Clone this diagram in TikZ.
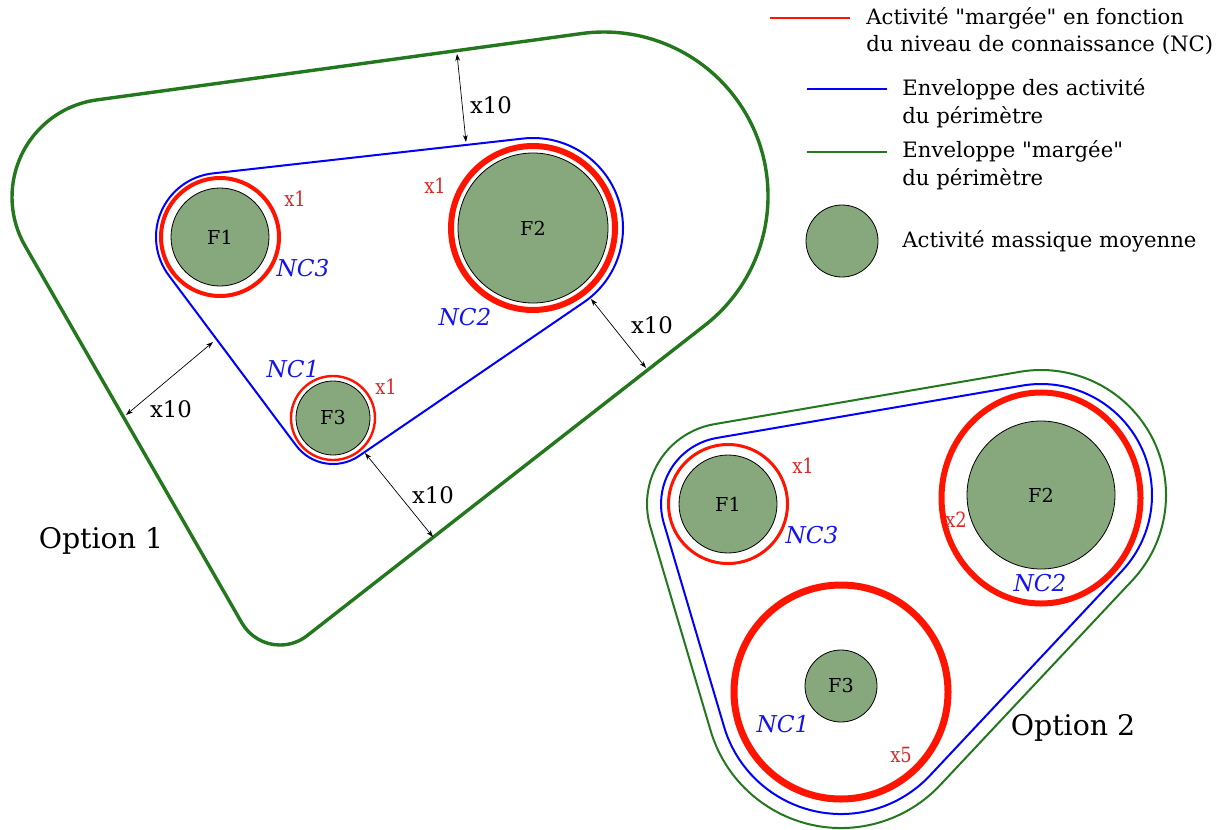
\documentclass[tikz,border=0pt]{standalone}
\usepackage{fontspec}
\setmainfont{DejaVu Serif}[Ligatures=TeXOff]
\newfontfamily\condfont[FakeStretch=0.85]{DejaVu Serif}
\usepackage{tikz}
\usetikzlibrary{arrows.meta}
\usetikzlibrary{positioning}
\usetikzlibrary{calc}
\definecolor{massgreen}{RGB}{135,168,125}
\definecolor{envgreen}{RGB}{35,120,30}
\definecolor{envblue}{RGB}{0,0,255}
\definecolor{ringred}{RGB}{255,20,0}
\definecolor{labred}{RGB}{220,40,40}
\definecolor{labblue}{RGB}{20,20,235}
\newcommand\massnode[4][]{%
  \node[massnode,#1,minimum size=#2pt] (#3) {#4};
}

\begin{document}
\begin{tikzpicture}[
x=0.5pt, y=0.5pt,
massnode/.style={
  circle,
  draw=black,
  line width=0.4pt,
  fill=massgreen,
  inner sep=0pt,
  font=\fontsize{9.6}{11}\selectfont},
ring/.style={draw=ringred},
benv/.style={draw=envblue, line width=1pt},
genv/.style={draw=envgreen},
nclab/.style={text=labblue, font=\fontsize{11.6}{13}\selectfont\itshape},
xlab/.style={text=labred, font=\condfont\fontsize{10.5}{12}\selectfont},
dimlab/.style={font=\fontsize{11.4}{13}\selectfont},
dimline/.style={{Stealth[length=3.5pt,width=2.4pt]}-{Stealth[length=3.5pt,width=2.4pt]}, line width=0.35pt},
legtext/.style={align=left, inner sep=0pt, font=\fontsize{10.6}{13.8}\selectfont},
optlab/.style={font=\fontsize{14.2}{16}\selectfont}
]
\useasboundingbox (0,0) rectangle (1224,-829);

% Option 1
\massnode[at={(220,-237)}]{49}{F1}{F1}
\massnode[at={(533,-228)}]{75}{F2}{F2}
\massnode[at={(333,-418)}]{37}{F3}{F3}
\draw[ring, line width=2pt] (F1) circle[radius=59];
\draw[ring, line width=3pt] (F2) circle[radius=82];
\draw[ring, line width=1.2pt] (F3) circle[radius=42];

\draw[benv] ($(F1)+(96.41:64)$) arc[start angle=96.41, end angle=216.8, radius=64]
  -- ($(F3)+(216.8:46)$) arc[start angle=216.8, end angle=304.35, radius=46]
  -- ($(F2)+(-55.65:90)$) arc[start angle=-55.65, end angle=96.41, radius=90]
  -- cycle;

\coordinate (g1) at (110,-197);
\coordinate (g2) at (604,-196);
\coordinate (g3) at (280,-601);
\draw[genv, line width=1.7pt] ($(g1)+(97.8:98)$) arc[start angle=97.8, end angle=209.9, radius=98]
  -- ($(g3)+(209.9:44)$) arc[start angle=209.9, end angle=307.96, radius=44]
  -- ($(g2)+(-52.04:164)$) arc[start angle=-52.04, end angle=97.8, radius=164]
  -- cycle;

\node[xlab] (x1a) at (295,-199) {x1};
\node[nclab] (nc3a) at (303,-268) {NC3};
\node[xlab] (x2a) at (435,-186) {x1};
\node[nclab] (nc2a) at (465,-317) {NC2};
\node[nclab] (nc1a) at (293,-369) {NC1};
\node[xlab] (x3a) at (386,-387) {x1};

\coordinate (m1g) at (457,-54);
\coordinate (m1b) at (466,-142);
\coordinate (m2b) at (591,-299);
\coordinate (m2g) at (646,-368);
\coordinate (m3g) at (126,-415);
\coordinate (m3b) at (213,-342);
\coordinate (m4b) at (365,-453);
\coordinate (m4g) at (433,-537);
\draw[dimline] (m1g) -- (m1b);
\draw[dimline] (m2b) -- (m2g);
\draw[dimline] (m3g) -- (m3b);
\draw[dimline] (m4b) -- (m4g);
\node[dimlab] (d1) at (491,-105) {x10};
\node[dimlab] (d2) at (652,-325) {x10};
\node[dimlab] (d3) at (171,-409) {x10};
\node[dimlab] (d4) at (433,-495) {x10};

\node[optlab] (opt1) at (101,-541) {Option 1};

% Option 2
\massnode[at={(728,-504)}]{49}{F1b}{F1}
\massnode[at={(1041,-495)}]{74}{F2b}{F2}
\massnode[at={(841,-686)}]{36}{F3b}{F3}
\coordinate (r2b) at (1041,-498);
\coordinate (r3b) at (841,-692);
\draw[ring, line width=1.5pt] (F1b) circle[radius=59.5];
\draw[ring, line width=3pt] (r2b) ellipse[x radius=99.5, y radius=105.5];
\draw[ring, line width=3.5pt] (r3b) circle[radius=107];

\draw[benv] ($(F1b)+(99.73:67)$) arc[start angle=99.73, end angle=196.49, radius=67]
  -- ($(r3b)+(196.49:122)$) arc[start angle=196.49, end angle=316.81, radius=122]
  -- ($(F2b)+(-43.19:111)$) arc[start angle=-43.19, end angle=99.73, radius=111]
  -- cycle;
\draw[genv, line width=1pt] ($(F1b)+(99.73:81)$) arc[start angle=99.73, end angle=196.49, radius=81]
  -- ($(r3b)+(196.49:136)$) arc[start angle=196.49, end angle=316.81, radius=136]
  -- ($(F2b)+(-43.19:125)$) arc[start angle=-43.19, end angle=99.73, radius=125]
  -- cycle;

\node[xlab] (x1b) at (803,-466) {x1};
\node[nclab] (nc3b) at (812,-535) {NC3};
\node[xlab] (x2b) at (956,-520) {x2};
\node[nclab] (nc2b) at (1040,-583) {NC2};
\node[nclab] (nc1b) at (783,-724) {NC1};
\node[xlab] (x3b) at (901,-755) {x5};

\node[optlab] (opt2) at (1073,-728) {Option 2};

% legend
\coordinate (lr1) at (770,-18);
\coordinate (lr2) at (850,-18);
\coordinate (lb1) at (807,-89);
\coordinate (lb2) at (887,-89);
\coordinate (lg1) at (807,-152);
\coordinate (lg2) at (887,-152);
\draw[ring, line width=1.3pt] (lr1) -- (lr2);
\draw[benv, line width=1.3pt] (lb1) -- (lb2);
\draw[genv, line width=1.3pt] (lg1) -- (lg2);
\massnode[at={(842,-241)}]{36}{lm}{}
\node[legtext, anchor=west] (t1) at (866,-31) {Activité "margée" en fonction\\du niveau de connaissance (NC)};
\node[legtext, anchor=west] (t2) at (902,-103) {Enveloppe des activité\\du périmètre};
\node[legtext, anchor=west] (t3) at (902,-165) {Enveloppe "margée"\\du périmètre};
\node[legtext, anchor=west] (t4) at (902,-241) {Activité massique moyenne};
\end{tikzpicture}
\end{document}
